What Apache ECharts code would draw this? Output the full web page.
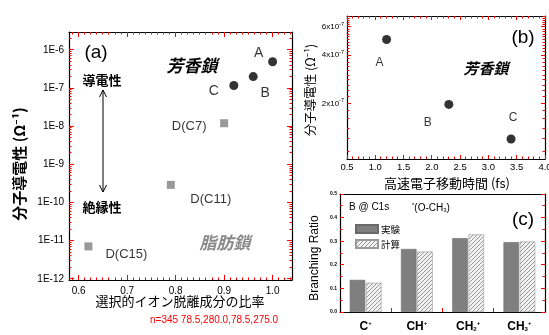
<!DOCTYPE html>
<html><head><meta charset="utf-8">
<script src="https://cdn.jsdelivr.net/npm/echarts@6/dist/echarts.min.js"></script>
<style>html,body{margin:0;padding:0;background:#fff}#c{width:549px;height:335px}</style>
</head><body><div id="c"></div>
<script>
// ---------- Panel (a) data ----------
const aromaticNames = ['A', 'B', 'C'];
const aromaticRatio = [1.00, 0.96, 0.92];
const aromaticConductivity = [4.9e-7, 2.0e-7, 1.17e-7];
const aliphaticNames = ['D(C7)', 'D(C11)', 'D(C15)'];
const aliphaticRatio = [0.90, 0.79, 0.62];
const aliphaticConductivity = [1.2e-8, 2.9e-10, 7.1e-12];
const aXTicks = [0.6, 0.7, 0.8, 0.9, 1.0];
const aYTickExps = [-12, -11, -10, -9, -8, -7, -6];

// ---------- Panel (b) data ----------
const transferNames = ['A', 'B', 'C'];
const transferTime = [1.2, 2.3, 3.4];
const transferConductivity = [5.0e-7, 1.97e-7, 1.2e-7];
const bXTicks = [0.5, 1.0, 1.5, 2.0, 2.5, 3.0, 3.5, 4.0];
const bYTicks = [2e-7, 4e-7, 6e-7];

// ---------- Panel (c) data ----------
const fragments = ['C+', 'CH+', 'CH2+', 'CH3+'];
const expRatio = [0.136, 0.267, 0.313, 0.296];
const calcRatio = [0.124, 0.256, 0.329, 0.299];
const cYTicks = [0, 0.1, 0.2, 0.3, 0.4, 0.5];
const legendNames = ['実験', '計算'];

// ---------- styling ----------
const SANS = '"Liberation Sans", Arial, sans-serif';
const CJK = '"Noto Sans CJK JP", "Noto Sans", sans-serif';
const TICK = '#ff0000';
const L10 = Math.log10;

const aromaticLabelOffsets = [[-14, -9], [12, 17], [-20, 6]];
const aliphaticLabelOffsets = [[-35, 3], [40, 15], [38, 8]];
const transferLabelOffsets = [[-7, 23], [-21, 18], [2, -21]];

function range(a, b, s) { const r = []; for (let v = a; v <= b + 1e-9; v += s) r.push(+v.toFixed(6)); return r; }
function notIn(list) { return v => !list.some(t => Math.abs(t - v) < 1e-6); }

const aXMin = 0.58, aXMax = 1.04, aYMin = -12.03, aYMax = -5.53;
const bXMin = 0.5, bXMax = 4.0, bYMin = L10(9e-8), bYMax = L10(7e-7);

const aXMinor = range(0.5875, 1.04, 0.0125).filter(notIn(aXTicks));
const aYMinor = [];
for (let e = -13; e <= -6; e++) for (let k = 2; k <= 9; k++) aYMinor.push(e + L10(k));
const bXMinor = range(0.5, 4.0, 0.1).filter(notIn(bXTicks));
const bYMajor = bYTicks.map(L10);
const bYMinor = range(1.0, 7.0, 0.2).map(m => L10(m * 1e-7)).filter(notIn(bYMajor));
const cYMinor = range(0.05, 0.5, 0.1);

function hatch() {
  const c = document.createElement('canvas'); c.width = 4; c.height = 4;
  const g = c.getContext('2d');
  g.fillStyle = '#f2f2f2'; g.fillRect(0, 0, 4, 4);
  g.strokeStyle = '#8c8c8c'; g.lineWidth = 0.9;
  g.beginPath();
  g.moveTo(0, 4); g.lineTo(4, 0);
  g.moveTo(-1, 1); g.lineTo(1, -1);
  g.moveTo(3, 5); g.lineTo(5, 3);
  g.stroke();
  return c;
}

function fragLabel(s) {
  const m = s.match(/^([A-Z]+)(\d?)\+$/);
  return m[1] + (m[2] ? '{sub|' + m[2] + '}' : '') + '{sup|+}';
}

function lineStyle() { return { show: true, onZero: false, lineStyle: { color: '#000', width: 1.2 } }; }
function vAxis(grid, pos, min, max, extra) {
  return Object.assign({
    type: 'value', gridIndex: grid, position: pos, min: min, max: max,
    axisLine: lineStyle(), axisTick: { show: false }, axisLabel: { show: false }, splitLine: { show: false }
  }, extra || {});
}

const xAxis = [
  vAxis(0, 'bottom', aXMin, aXMax, {
    axisLabel: { show: true, customValues: aXTicks, fontSize: 10, fontFamily: SANS, color: '#000', margin: 6, formatter: v => v.toFixed(1) }
  }),
  vAxis(0, 'top', aXMin, aXMax),
  vAxis(1, 'bottom', bXMin, bXMax, {
    interval: 0.5,
    axisLabel: { show: true, fontSize: 9.5, fontFamily: SANS, color: '#000', margin: 3, formatter: v => v.toFixed(1) }
  }),
  vAxis(1, 'top', bXMin, bXMax),
  {
    type: 'category', gridIndex: 2, position: 'bottom', data: fragments,
    axisLine: lineStyle(), axisTick: { show: false }, splitLine: { show: false },
    axisLabel: {
      show: true, interval: 0, hideOverlap: false, margin: 8, color: '#000', formatter: fragLabel,
      fontSize: 12, fontWeight: 'bold', fontFamily: SANS,
      rich: {
        sub: { fontSize: 6, fontWeight: 'bold', fontFamily: SANS, padding: [6, 0, 0, 0] },
        sup: { fontSize: 6, fontWeight: 'bold', fontFamily: SANS, padding: [0, 0, 7, 0] }
      }
    }
  },
  {
    type: 'category', gridIndex: 2, position: 'top', data: fragments,
    axisLine: lineStyle(), axisTick: { show: false }, axisLabel: { show: false }, splitLine: { show: false }
  }
];

const yAxis = [
  vAxis(0, 'left', aYMin, aYMax, {
    axisLabel: { show: true, customValues: aYTickExps, fontSize: 10, fontFamily: SANS, color: '#000', margin: 5, formatter: v => '1E' + Math.round(v) }
  }),
  vAxis(0, 'right', aYMin, aYMax),
  vAxis(1, 'left', bYMin, bYMax, {
    axisLabel: {
      show: true, customValues: bYMajor, fontSize: 8, fontFamily: SANS, color: '#000', margin: 3,
      formatter: v => Math.round(Math.pow(10, v + 7)) + 'x10{s|-7}',
      rich: { s: { fontSize: 5.5, fontFamily: SANS, padding: [0, 0, 5, 0] } }
    }
  }),
  vAxis(1, 'right', bYMin, bYMax),
  vAxis(2, 'left', 0, 0.5, {
    axisLabel: { show: true, customValues: cYTicks, fontSize: 5, fontWeight: 'bold', fontFamily: SANS, color: '#000', margin: 3, formatter: v => v.toFixed(1) }
  }),
  vAxis(2, 'right', 0, 0.5)
];

function pointLabel(size) {
  return { show: true, position: 'inside', formatter: '{b}', color: '#000', fontSize: size, fontFamily: SANS };
}
function pts(xs, ys, names, offsets) {
  return xs.map((x, i) => ({ value: [x, L10(ys[i])], name: names[i], label: { offset: offsets[i] } }));
}

function txt(x, y, text, style, extra) {
  return Object.assign({ type: 'text', x: x, y: y, silent: true,
    style: Object.assign({ text: text, x: 0, y: 0, align: 'center', verticalAlign: 'middle', fill: '#000' }, style) }, extra || {});
}
function seg(x1, y1, x2, y2, color) {
  return { type: 'line', silent: true, z: 100, shape: { x1: x1, y1: y1, x2: x2, y2: y2 }, style: { stroke: color || '#000', lineWidth: 1 } };
}

const graphics = [
  txt(96, 53, '(a)', { fontSize: 19, fontFamily: SANS }),
  txt(192, 66, '芳香鎖', { fontSize: 17, fontFamily: CJK, fontWeight: 'bold', fontStyle: 'italic' }),
  txt(225, 243, '脂肪鎖', { fontSize: 17, fontFamily: CJK, fontWeight: 'bold', fontStyle: 'italic', fill: '#8a8a8a' }),
  txt(102, 80, '導電性', { fontSize: 13, fontFamily: CJK, fontWeight: 'bold' }),
  txt(102, 207, '絶縁性', { fontSize: 13, fontFamily: CJK, fontWeight: 'bold' }),
  seg(103, 90, 103, 192),
  { type: 'polyline', silent: true, shape: { points: [[99.5, 97], [103, 90], [106.5, 97]] }, style: { stroke: '#000', lineWidth: 1, fill: null } },
  { type: 'polyline', silent: true, shape: { points: [[99.5, 185], [103, 192], [106.5, 185]] }, style: { stroke: '#000', lineWidth: 1, fill: null } },
  txt(19, 164, '分子導電性 (Ω⁻¹)', { fontSize: 15, fontFamily: CJK, fontWeight: 'bold' }, { rotation: Math.PI / 2 }),
  txt(180, 301, '選択的イオン脱離成分の比率', { fontSize: 13, fontFamily: CJK }),
  txt(523, 38, '(b)', { fontSize: 19, fontFamily: SANS }),
  txt(486, 68, '芳香鎖', { fontSize: 15, fontFamily: CJK, fontWeight: 'bold', fontStyle: 'italic' }),
  txt(310, 90, '分子導電性 (Ω⁻¹)', { fontSize: 12.5, fontFamily: CJK }, { rotation: Math.PI / 2 }),
  txt(447, 183, '高速電子移動時間 (fs)', { fontSize: 13, fontFamily: CJK }),
  txt(523, 220, '(c)', { fontSize: 19, fontFamily: SANS }),
  txt(349, 207, 'B @ C1s', { fontSize: 10, fontFamily: SANS, align: 'left' }),
  txt(412, 208, '{s|*}(O-CH{b|3})', { fontSize: 10, fontFamily: SANS, align: 'left',
    rich: { s: { fontSize: 6, fontFamily: SANS, padding: [0, 0, 6, 0] }, b: { fontSize: 6, fontFamily: SANS, padding: [5, 0, 0, 0] } } }),
  txt(315, 258, 'Branching Ratio', { fontSize: 12, fontFamily: SANS }, { rotation: Math.PI / 2 })
];

const option = {
  animation: false,
  backgroundColor: '#fff',
  grid: [
    { left: 69, top: 32, width: 223, height: 248, outerBoundsMode: 'none' },
    { left: 347, top: 16, width: 198, height: 143, outerBoundsMode: 'none' },
    { left: 340, top: 194, width: 205, height: 118, outerBoundsMode: 'none' }
  ],
  xAxis: xAxis,
  yAxis: yAxis,
  legend: {
    data: legendNames, left: 350, top: 219, orient: 'vertical',
    itemWidth: 22, itemHeight: 8, itemGap: 5, icon: 'rect',
    textStyle: { fontSize: 9.5, fontFamily: CJK, color: '#000', padding: [0, 0, 0, -2] }
  },
  series: [
    {
      type: 'scatter', xAxisIndex: 0, yAxisIndex: 0, symbol: 'circle', symbolSize: 9,
      itemStyle: { color: '#000' }, label: pointLabel(14),
      data: pts(aromaticRatio, aromaticConductivity, aromaticNames, aromaticLabelOffsets)
    },
    {
      type: 'scatter', xAxisIndex: 0, yAxisIndex: 0, symbol: 'rect', symbolSize: 8,
      itemStyle: { color: '#808080' }, label: pointLabel(13),
      data: pts(aliphaticRatio, aliphaticConductivity, aliphaticNames, aliphaticLabelOffsets)
    },
    {
      type: 'scatter', xAxisIndex: 2, yAxisIndex: 2, symbol: 'circle', symbolSize: 9,
      itemStyle: { color: '#000' }, label: pointLabel(12),
      data: pts(transferTime, transferConductivity, transferNames, transferLabelOffsets)
    },
    {
      type: 'bar', name: legendNames[0], xAxisIndex: 4, yAxisIndex: 4, barWidth: 15.5, barGap: '5%',
      itemStyle: { color: '#7f7f7f', borderColor: '#6a6a6a', borderWidth: 0.6 },
      data: expRatio
    },
    {
      type: 'bar', name: legendNames[1], xAxisIndex: 4, yAxisIndex: 4, barWidth: 15.5, barGap: '5%',
      itemStyle: { color: { image: hatch(), repeat: 'repeat' }, borderColor: '#9a9a9a', borderWidth: 0.6 },
      data: calcRatio
    }
  ],
  graphic: graphics
};

const chart = echarts.init(document.getElementById('c'));
chart.setOption(option);

// ---- axis ticks, positioned through the chart's own axis scales ----
const snap = p => Math.round(p - 0.5) + 0.5;
const tickGraphics = [];
function xTicks(f, vals, len, xLo, xHi, yLo, yHi) {
  vals.forEach(v => {
    if (v < xLo - 1e-9 || v > xHi + 1e-9) return;
    const pb = chart.convertToPixel(f, [v, yLo]);
    const pt = chart.convertToPixel(f, [v, yHi]);
    const x = snap(pb[0]);
    tickGraphics.push(seg(x, pb[1], x, pb[1] - len, TICK));
    tickGraphics.push(seg(x, pt[1], x, pt[1] + len, TICK));
  });
}
function yTicks(f, vals, len, xLo, xHi, yLo, yHi) {
  vals.forEach(v => {
    if (v < yLo - 1e-9 || v > yHi + 1e-9) return;
    const pl = chart.convertToPixel(f, [xLo, v]);
    const pr = chart.convertToPixel(f, [xHi, v]);
    const y = snap(pl[1]);
    tickGraphics.push(seg(pl[0], y, pl[0] + len, y, TICK));
    tickGraphics.push(seg(pr[0], y, pr[0] - len, y, TICK));
  });
}
const fa = { xAxisIndex: 0, yAxisIndex: 0 };
xTicks(fa, aXTicks, 5, aXMin, aXMax, aYMin, aYMax);
xTicks(fa, aXMinor, 2.5, aXMin, aXMax, aYMin, aYMax);
yTicks(fa, aYTickExps, 5, aXMin, aXMax, aYMin, aYMax);
yTicks(fa, aYMinor, 2.5, aXMin, aXMax, aYMin, aYMax);
const fb = { xAxisIndex: 2, yAxisIndex: 2 };
xTicks(fb, bXTicks, 4, bXMin, bXMax, bYMin, bYMax);
xTicks(fb, bXMinor, 2.5, bXMin, bXMax, bYMin, bYMax);
yTicks(fb, bYMajor, 4, bXMin, bXMax, bYMin, bYMax);
yTicks(fb, bYMinor, 2.5, bXMin, bXMax, bYMin, bYMax);
const fc = { xAxisIndex: 4, yAxisIndex: 4 };
const cBottom = chart.convertToPixel(fc, [0, 0])[1];
for (let i = 0; i < fragments.length - 1; i++) {
  const a = chart.convertToPixel(fc, [i, 0])[0], b = chart.convertToPixel(fc, [i + 1, 0])[0];
  const x = snap((a + b) / 2);
  tickGraphics.push(seg(x, cBottom, x, cBottom - 4, TICK));
}
function cTicks(vals, len) {
  vals.forEach(v => {
    const y = snap(chart.convertToPixel({ yAxisIndex: 4 }, v));
    tickGraphics.push(seg(340, y, 340 + len, y, TICK));
    tickGraphics.push(seg(545, y, 545 - len, y, TICK));
  });
}
cTicks(cYTicks, 4);
cTicks(cYMinor, 2.5);

const first = tickGraphics[0] ? tickGraphics[0].shape : {};
const dbg = txt(150, 320, 'n=' + tickGraphics.length + ' ' + [first.x1, first.y1, first.x2, first.y2].map(v => typeof v === 'number' ? v.toFixed(1) : String(v)).join(','),
  { fontSize: 10, fontFamily: SANS, fill: '#f00', align: 'left' });
chart.setOption({ graphic: graphics.concat([dbg], tickGraphics) });
</script>
</body></html>
